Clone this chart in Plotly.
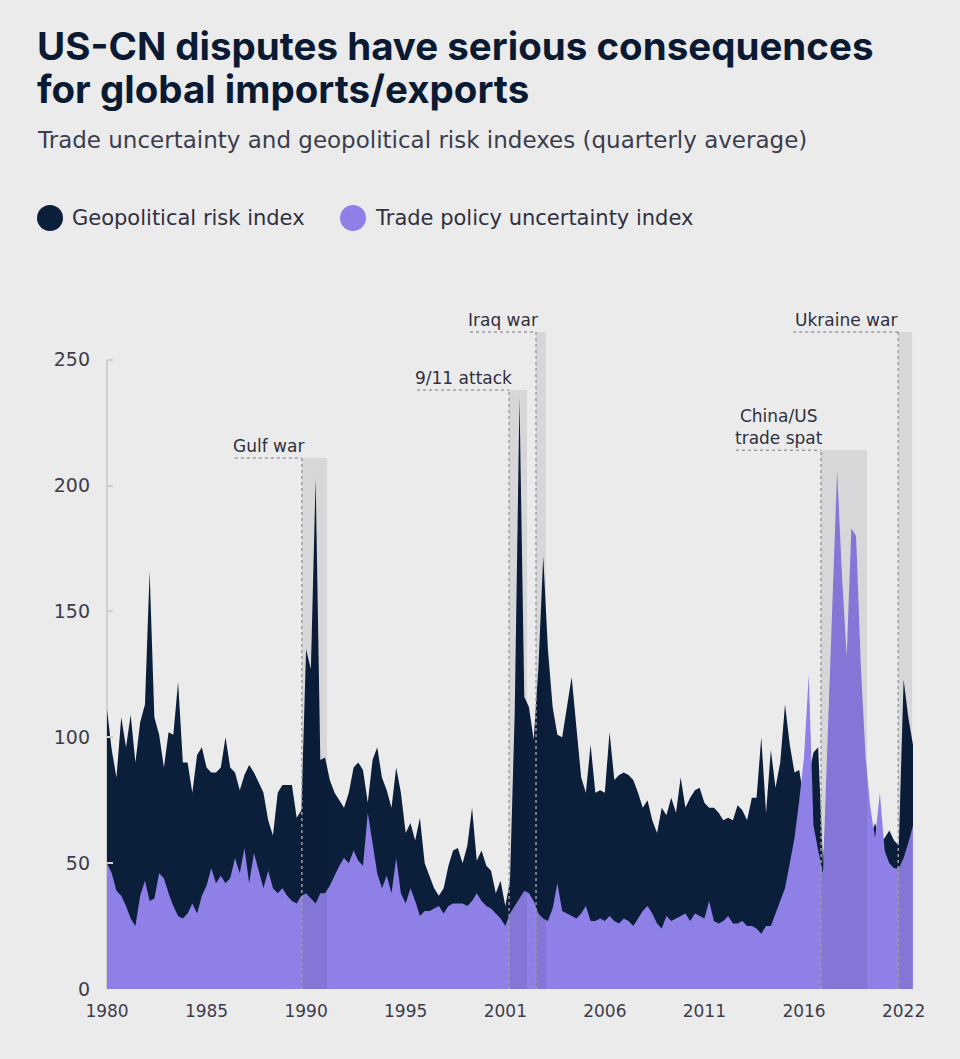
import pandas as pd
import plotly.graph_objects as go

# Quarterly averages, 1980Q1 - 2022Q3
geopolitical_risk = [
    111, 95, 84, 108, 96, 109, 90, 106, 113, 166,
    108, 101, 88, 102, 101, 122, 90, 90, 78, 93,
    96, 88, 86, 86, 88, 100, 88, 86, 79, 85,
    89, 86, 82, 78, 67, 61, 78, 81, 81, 81,
    68, 71, 135, 127, 203, 91, 92, 83, 78, 75,
    72, 78, 88, 90, 87, 74, 91, 96, 84, 79,
    72, 88, 78, 62, 66, 59, 68, 50, 45, 40,
    37, 40, 49, 55, 56, 50, 57, 72, 51, 55,
    49, 47, 38, 43, 33, 43, 110, 235, 116, 112,
    99, 128, 172, 135, 112, 101, 100, 112, 124, 104,
    84, 78, 97, 78, 79, 78, 102, 83, 85, 86,
    85, 83, 78, 72, 75, 67, 62, 72, 69, 76,
    70, 84, 72, 76, 79, 80, 74, 72, 72, 70,
    67, 68, 67, 73, 71, 67, 76, 76, 100, 70,
    95, 80, 90, 113, 97, 86, 87, 75, 85, 94,
    96, 50, 80, 90, 85, 80, 75, 85, 80, 70,
    65, 60, 66, 58, 60, 63, 59, 57, 123, 108,
    97,
]
trade_policy_uncertainty = [
    50, 46, 39, 37, 33, 28, 25, 37, 43, 35,
    36, 46, 44, 38, 33, 29, 28, 30, 34, 30,
    37, 41, 48, 42, 45, 42, 44, 52, 46, 56,
    42, 54, 47, 40, 47, 40, 38, 40, 37, 35,
    34, 37, 38, 36, 34, 38, 38, 41, 45, 49,
    52, 50, 55, 51, 49, 70, 58, 46, 40, 45,
    38, 52, 38, 34, 40, 35, 29, 31, 31, 32,
    33, 30, 33, 34, 34, 34, 33, 35, 38, 35,
    33, 32, 30, 28, 25, 30, 33, 36, 39, 38,
    35, 30, 28, 27, 32, 42, 31, 30, 29, 28,
    30, 33, 27, 27, 28, 27, 29, 27, 26, 28,
    27, 25, 28, 31, 33, 30, 26, 24, 29, 27,
    28, 29, 30, 27, 30, 29, 28, 35, 27, 26,
    27, 29, 26, 26, 27, 25, 25, 24, 22, 25,
    25, 30, 35, 40, 50, 60, 75, 92, 125, 65,
    55, 46, 101, 153, 206, 165, 132, 183, 180, 128,
    92, 72, 60, 78, 55, 50, 48, 48, 52, 58,
    65,
]
quarters = pd.date_range("1980-01-01", periods=len(geopolitical_risk), freq="QS")

tick_years = ["1980", "1985", "1990", "1995", "2001", "2006", "2011", "2016", "2022"]
tick_dates = list(quarters[::21])
y_ticks = [0, 50, 100, 150, 200, 250]

# Highlighted episodes: label, start, end, height of the band
event_labels = ["Gulf war", "9/11 attack", "Iraq war", "China/US<br>trade spat", "Ukraine war"]
event_starts = ["1990-04-10", "2001-03-14", "2002-08-15", "2017-08-25", "2021-09-20"]
event_ends = ["1991-08-07", "2002-02-24", "2003-02-24", "2020-01-28", "2022-06-14"]
event_tops = [211, 238, 261, 214, 261]

NAVY = "#0b1e3a"
PURPLE = "#8f80e8"
BG = "#ebebeb"
TEXT = "#2f3040"
SANS = "DejaVu Sans, Verdana, sans-serif"
HEAD = "Inter, Lato, sans-serif"

# page geometry (pixels)
W, H = 960, 1059
L, R, T, B = 107, 47, 322, 70
PW, PH = W - L - R, H - T - B


def px_x(px):
    return (px - L) / PW


def px_y(py):
    return (H - B - py) / PH


fig = go.Figure()
fig.add_trace(go.Scatter(
    x=quarters, y=geopolitical_risk, name="Geopolitical risk index",
    mode="lines", line=dict(width=0, color=NAVY), fill="tozeroy",
    fillcolor=NAVY, showlegend=False,
))
fig.add_trace(go.Scatter(
    x=quarters, y=trade_policy_uncertainty, name="Trade policy uncertainty index",
    mode="lines", line=dict(width=0, color=PURPLE), fill="tozeroy",
    fillcolor=PURPLE, showlegend=False,
))

shapes = []
annotations = []

# y axis rule, only up to the top tick
shapes.append(dict(type="line", xref="paper", yref="y", x0=0, x1=0, y0=0, y1=250,
                   line=dict(color="#cfcfcf", width=2), layer="below"))

leader_px = [67, 92, 66, 85, 105]
for label, start, end, top, lead in zip(event_labels, event_starts, event_ends,
                                         event_tops, leader_px):
    shapes.append(dict(type="rect", xref="x", yref="y", x0=start, x1=end, y0=0, y1=top,
                       fillcolor="rgba(10,10,30,0.085)", line=dict(width=0), layer="above"))
    shapes.append(dict(type="line", xref="x", yref="y", x0=start, x1=start, y0=0, y1=top,
                       line=dict(color="#9c9ca4", width=1.5, dash="3px,3px"), layer="above"))
    shapes.append(dict(type="line", xref="x", yref="y", xsizemode="pixel", xanchor=start,
                       x0=-lead, x1=0, y0=top, y1=top,
                       line=dict(color="#9c9ca4", width=1.5, dash="3px,3px"), layer="above"))
    annotations.append(dict(x=start, y=top, xref="x", yref="y", text=label,
                            showarrow=False, xanchor="center", yanchor="bottom",
                            xshift=-lead / 2, yshift=0, align="center",
                            font=dict(family=SANS, size=17, color=TEXT)))

# legend
for cx, color, text in [(50, NAVY, "Geopolitical risk index"),
                        (353, PURPLE, "Trade policy uncertainty index")]:
    shapes.append(dict(type="circle", xref="paper", yref="paper",
                       x0=px_x(cx - 13), x1=px_x(cx + 13),
                       y0=px_y(218 + 13), y1=px_y(218 - 13),
                       fillcolor=color, line=dict(width=0)))
    annotations.append(dict(x=px_x(cx + 20), y=px_y(218), xref="paper", yref="paper",
                            text=text, showarrow=False, xanchor="left", yanchor="middle",
                            font=dict(family=SANS, size=21, color=TEXT)))

# headline and subtitle
for line_text, cy in [("US-CN disputes have serious consequences", 46),
                      ("for global imports/exports", 89)]:
    annotations.append(dict(x=px_x(35), y=px_y(cy), xref="paper", yref="paper",
                            text="<b>" + line_text + "</b>", showarrow=False,
                            xanchor="left", yanchor="middle",
                            font=dict(family=HEAD, size=38.5, color="#0b1a33")))
annotations.append(dict(x=px_x(35), y=px_y(140), xref="paper", yref="paper",
                        text="Trade uncertainty and geopolitical risk indexes (quarterly average)",
                        showarrow=False, xanchor="left", yanchor="middle",
                        font=dict(family=SANS, size=23, color="#3c3d4c")))

fig.update_layout(
    width=W, height=H,
    margin=dict(l=L, r=R, t=T, b=B),
    paper_bgcolor=BG, plot_bgcolor=BG,
    xaxis=dict(
        range=[quarters[0], quarters[-1]], showgrid=False, zeroline=False,
        showline=False, tickvals=tick_dates, ticktext=tick_years, ticks="",
        ticklabelstandoff=10,
        tickfont=dict(family=SANS, size=17, color="#3c3d4c"),
    ),
    yaxis=dict(
        range=[0, 265], showgrid=False, zeroline=False, showline=False,
        tickvals=y_ticks, ticks="inside", ticklen=6, tickwidth=2,
        tickcolor="#cfcfcf", ticklabelstandoff=16,
        tickfont=dict(family=SANS, size=19, color="#3c3d4c"),
    ),
    shapes=shapes,
    annotations=annotations,
    showlegend=False,
)

fig.write_html("out.html")
